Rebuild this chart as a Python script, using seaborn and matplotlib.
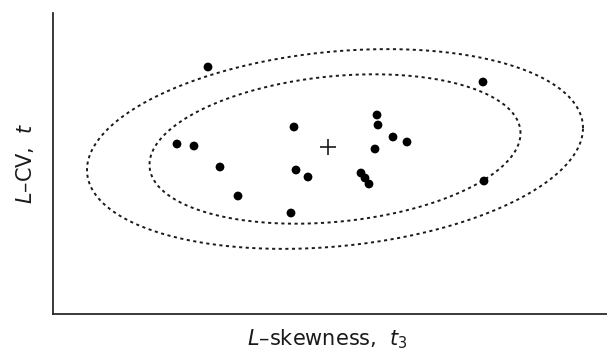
import numpy as np
import pandas as pd
import matplotlib
matplotlib.use("Agg")
import matplotlib.pyplot as plt
import seaborn as sns

# ---- data ----
site_t3 = [0.155, 0.430, 0.124, 0.141, 0.167, 0.185, 0.238, 0.241, 0.243, 0.255,
           0.324, 0.325, 0.322, 0.340, 0.354, 0.308, 0.312, 0.316, 0.431]
site_t = [0.247, 0.232, 0.170, 0.168, 0.147, 0.118, 0.101, 0.187, 0.144, 0.137,
          0.199, 0.189, 0.165, 0.177, 0.172, 0.141, 0.136, 0.130, 0.133]
regional_mean = [0.275, 0.167]          # "+" marker (t3, t)
ellipse_center = [0.282, 0.165]
ellipse_sd = [0.1855, 0.0747]           # base spread along t3, t
ellipse_rho = 0.21
ellipse_levels = [1.0, 1.337]           # inner, outer contour radii

x_label = r"$L$–skewness,  $t_3$"
y_label = r"$L$–CV,  $t$"

# ---- plot ----
sns.set_theme(style="white")
plt.rcParams["font.family"] = ["DejaVu Sans"]
plt.rcParams["mathtext.fontset"] = "dejavusans"

fig = plt.figure(figsize=(6.07, 3.56), dpi=100)
ax = fig.add_axes([53 / 607, 42 / 356, 554 / 607, 301 / 356])

cov = np.array([[ellipse_sd[0] ** 2, ellipse_rho * ellipse_sd[0] * ellipse_sd[1]],
                [ellipse_rho * ellipse_sd[0] * ellipse_sd[1], ellipse_sd[1] ** 2]])
chol = np.linalg.cholesky(cov)
theta = np.linspace(0, 2 * np.pi, 400)
circle = np.vstack([np.cos(theta), np.sin(theta)])
frames = []
for i, lev in enumerate(ellipse_levels):
    pts = chol @ (circle * lev)
    frames.append(pd.DataFrame({"t3": pts[0] + ellipse_center[0],
                                "t": pts[1] + ellipse_center[1],
                                "level": i}))
ell = pd.concat(frames, ignore_index=True)
for lev, sub in ell.groupby("level"):
    sns.lineplot(data=sub, x="t3", y="t", sort=False, estimator=None, ax=ax,
                 color="#1a1a1a", lw=1.4, linestyle=(0, (1.6, 1.8)))

pts_df = pd.DataFrame({"t3": site_t3, "t": site_t})
sns.scatterplot(data=pts_df, x="t3", y="t", ax=ax, color="black", s=40,
                edgecolor="none", linewidth=0, zorder=3)
ax.plot([regional_mean[0]], [regional_mean[1]], marker="+", color="#1a1a1a",
        markersize=12, mew=1.2, linestyle="none", zorder=3)

ax.set_xlim(0, 0.554)
ax.set_ylim(0, 0.301)
ax.set_xticks([])
ax.set_yticks([])
sns.despine(ax=ax)
for side in ("left", "bottom"):
    ax.spines[side].set_color("#2a2a2a")
    ax.spines[side].set_linewidth(1.3)

ax.set_xlabel(x_label, fontsize=15, color="#1a1a1a", va="baseline")
ax.xaxis.set_label_coords((327.5 - 53) / 554, -(345 - 314) / 301)
ax.set_ylabel(y_label, fontsize=15, color="#1a1a1a", va="center")
ax.yaxis.set_label_coords(-(53 - 25) / 554, 0.5)

fig.savefig("out.png", dpi=100)
